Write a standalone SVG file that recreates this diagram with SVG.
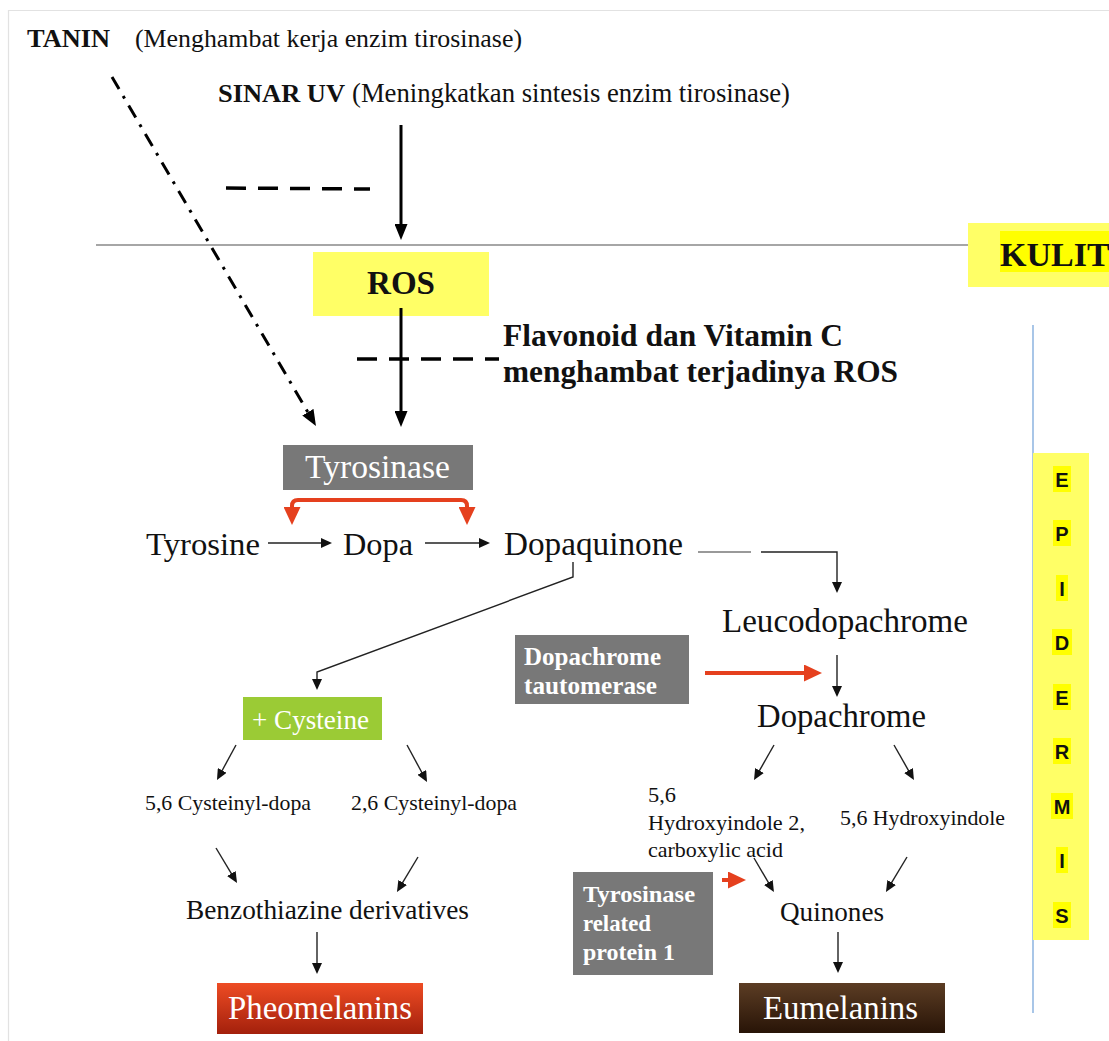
<svg xmlns="http://www.w3.org/2000/svg" width="1109" height="1041" viewBox="0 0 1109 1041">
<style>
.serif{font-family:"Liberation Serif","Times New Roman",serif;fill:#111;}
.b{font-weight:bold;}
.w{fill:#fff;}
.sans{font-family:"Liberation Sans",Arial,sans-serif;font-weight:bold;fill:#111;}
.thin{stroke:#222;stroke-width:1.4;fill:none;}
.thick{stroke:#000;stroke-width:3;fill:none;}
.red{stroke:#E5401E;stroke-width:4;fill:none;}
.dash{stroke:#000;stroke-width:3.5;stroke-dasharray:20 12;fill:none;}
.gbox{fill:#787878;}
</style>
<defs>
<marker id="ahThick" markerUnits="userSpaceOnUse" markerWidth="16" markerHeight="13" refX="4" refY="6.5" orient="auto" viewBox="0 0 16 13"><path d="M0,0 L16,6.5 L0,13 z" fill="#000"/></marker>
<marker id="ahThin" markerUnits="userSpaceOnUse" markerWidth="11" markerHeight="10" refX="3" refY="5" orient="auto" viewBox="0 0 11 10"><path d="M0,0 L11,5 L0,10 z" fill="#111"/></marker>
<marker id="ahRed" markerUnits="userSpaceOnUse" markerWidth="18" markerHeight="17" refX="4" refY="8.5" orient="auto" viewBox="0 0 18 17"><path d="M0,0 L18,8.5 L0,17 z" fill="#E5401E"/></marker>
<linearGradient id="gPheo" x1="0" y1="0" x2="0" y2="1"><stop offset="0" stop-color="#EE4C24"/><stop offset="1" stop-color="#A3200C"/></linearGradient>
<linearGradient id="gEu" x1="0" y1="0" x2="0" y2="1"><stop offset="0" stop-color="#5C3D24"/><stop offset="1" stop-color="#281407"/></linearGradient>
</defs>
<rect width="1109" height="1041" fill="#fff"/>
<g id="frame" stroke="#e2e2e2" stroke-width="1.2" fill="none">
<path d="M8.5,1041 V10.5 H1109"/>
</g>
<g id="skin-line"><line x1="96" y1="245" x2="968" y2="245" stroke="#888" stroke-width="1.3"/></g>
<g id="epidermis-line"><line x1="1033" y1="325" x2="1033" y2="1013" stroke="#6FA0D8" stroke-width="1.2"/></g>

<g id="tanin">
<text class="serif b" x="27" y="47" font-size="25" textLength="83" lengthAdjust="spacingAndGlyphs">TANIN</text>
<text class="serif" x="135" y="47" font-size="26" textLength="387" lengthAdjust="spacingAndGlyphs">(Menghambat kerja enzim tirosinase)</text>
</g>
<g id="sinar-uv">
<text class="serif b" x="218" y="102" font-size="26" textLength="127" lengthAdjust="spacingAndGlyphs">SINAR UV</text>
<text class="serif" x="352" y="102" font-size="26.5" textLength="438" lengthAdjust="spacingAndGlyphs">(Meningkatkan sintesis enzim tirosinase)</text>
</g>
<g id="kulit">
<rect x="968" y="223" width="141" height="64" fill="#FFFF66"/>
<rect x="1000" y="231" width="109" height="41" fill="#FFFF00"/>
<text class="serif b" x="1000" y="266" font-size="34">KULIT</text>
</g>
<g id="ros">
<rect x="313" y="252" width="176" height="64" fill="#FFFF66"/>
<text class="serif b" x="367" y="294" font-size="33" textLength="68" lengthAdjust="spacingAndGlyphs">ROS</text>
</g>
<g id="flavonoid">
<text class="serif b" x="503" y="346" font-size="31" textLength="340" lengthAdjust="spacingAndGlyphs">Flavonoid dan Vitamin C</text>
<text class="serif b" x="503" y="382" font-size="31" textLength="395" lengthAdjust="spacingAndGlyphs">menghambat terjadinya ROS</text>
</g>
<g id="tyrosinase">
<rect class="gbox" x="283" y="445" width="190" height="45"/>
<text class="serif w" x="305" y="478" font-size="33" textLength="145" lengthAdjust="spacingAndGlyphs">Tyrosinase</text>
</g>
<g id="tyrosine"><text class="serif" x="146" y="555" font-size="32" textLength="114" lengthAdjust="spacingAndGlyphs">Tyrosine</text></g>
<g id="dopa"><text class="serif" x="343" y="555" font-size="32" textLength="70" lengthAdjust="spacingAndGlyphs">Dopa</text></g>
<g id="dopaquinone"><text class="serif" x="504" y="555" font-size="33" textLength="179" lengthAdjust="spacingAndGlyphs">Dopaquinone</text></g>
<g id="leucodopachrome"><text class="serif" x="722" y="632" font-size="33" textLength="246" lengthAdjust="spacingAndGlyphs">Leucodopachrome</text></g>
<g id="dopachrome-tautomerase">
<rect class="gbox" x="515" y="635" width="174" height="69"/>
<text class="serif b w" x="524" y="665" font-size="25" textLength="137" lengthAdjust="spacingAndGlyphs">Dopachrome</text>
<text class="serif b w" x="524" y="694" font-size="25" textLength="133" lengthAdjust="spacingAndGlyphs">tautomerase</text>
</g>
<g id="dopachrome"><text class="serif" x="757" y="727" font-size="33" textLength="169" lengthAdjust="spacingAndGlyphs">Dopachrome</text></g>
<g id="cysteine">
<rect x="243" y="697" width="139" height="43" fill="#9BCB35"/>
<text class="serif w" x="252" y="729" font-size="27" textLength="117" lengthAdjust="spacingAndGlyphs">+ Cysteine</text>
</g>
<g id="cysteinyl-56"><text class="serif" x="145" y="810" font-size="22" textLength="166" lengthAdjust="spacingAndGlyphs">5,6 Cysteinyl-dopa</text></g>
<g id="cysteinyl-26"><text class="serif" x="351" y="810" font-size="22" textLength="166" lengthAdjust="spacingAndGlyphs">2,6 Cysteinyl-dopa</text></g>
<g id="benzothiazine"><text class="serif" x="186" y="919" font-size="27" textLength="283" lengthAdjust="spacingAndGlyphs">Benzothiazine derivatives</text></g>
<g id="pheomelanins">
<rect x="217" y="983" width="206" height="51" fill="url(#gPheo)"/>
<text class="serif w" x="228" y="1019" font-size="33" textLength="184" lengthAdjust="spacingAndGlyphs">Pheomelanins</text>
</g>
<g id="dhica">
<text class="serif" x="648" y="802" font-size="22" textLength="28" lengthAdjust="spacingAndGlyphs">5,6</text>
<text class="serif" x="648" y="830" font-size="22" textLength="157" lengthAdjust="spacingAndGlyphs">Hydroxyindole 2,</text>
<text class="serif" x="648" y="857" font-size="22" textLength="135" lengthAdjust="spacingAndGlyphs">carboxylic acid</text>
</g>
<g id="dhi"><text class="serif" x="840" y="825" font-size="22" textLength="165" lengthAdjust="spacingAndGlyphs">5,6 Hydroxyindole</text></g>
<g id="quinones"><text class="serif" x="780" y="921" font-size="27" textLength="104" lengthAdjust="spacingAndGlyphs">Quinones</text></g>
<g id="trp1">
<rect class="gbox" x="573" y="872" width="140" height="103"/>
<text class="serif b w" x="583" y="902" font-size="24" textLength="112" lengthAdjust="spacingAndGlyphs">Tyrosinase</text>
<text class="serif b w" x="583" y="931" font-size="24" textLength="68" lengthAdjust="spacingAndGlyphs">related</text>
<text class="serif b w" x="583" y="960" font-size="24" textLength="92" lengthAdjust="spacingAndGlyphs">protein 1</text>
</g>
<g id="eumelanins">
<rect x="739" y="983" width="206" height="50" fill="url(#gEu)"/>
<text class="serif w" x="763" y="1019" font-size="33" textLength="155" lengthAdjust="spacingAndGlyphs">Eumelanins</text>
</g>
<g id="epidermis">
<rect x="1033" y="453" width="56" height="487" fill="#FFFF66"/>
<g fill="#FFFF00">
<rect x="1053" y="466" width="18" height="26"/>
<rect x="1053" y="520" width="18" height="26"/>
<rect x="1056" y="575" width="12" height="26"/>
<rect x="1052" y="629" width="20" height="26"/>
<rect x="1053" y="684" width="18" height="26"/>
<rect x="1053" y="738" width="18" height="26"/>
<rect x="1051" y="793" width="22" height="26"/>
<rect x="1056" y="847" width="12" height="26"/>
<rect x="1053" y="902" width="18" height="26"/>
</g>
<g class="sans" font-size="20" text-anchor="middle">
<text x="1062" y="487">E</text>
<text x="1062" y="541">P</text>
<text x="1062" y="596">I</text>
<text x="1062" y="650">D</text>
<text x="1062" y="705">E</text>
<text x="1062" y="759">R</text>
<text x="1062" y="814">M</text>
<text x="1062" y="868">I</text>
<text x="1062" y="923">S</text>
</g>
</g>

<g id="connectors">
<line class="dash" x1="226" y1="188" x2="370" y2="189"/>
<line class="dash" x1="357" y1="359" x2="499" y2="359"/>
<line class="thick" x1="401" y1="125" x2="401" y2="228" marker-end="url(#ahThick)"/>
<line class="thick" x1="401" y1="308" x2="401" y2="415" marker-end="url(#ahThick)"/>
<line x1="112" y1="77" x2="309.9" y2="415.6" stroke="#000" stroke-width="3" stroke-dasharray="14 8 3 8" marker-end="url(#ahThick)"/>
<path class="red" d="M380,500 H298 Q292,500 292,506 V511" marker-end="url(#ahRed)"/>
<path class="red" d="M380,500 H461 Q467,500 467,506 V511" marker-end="url(#ahRed)"/>
<line class="thin" x1="268" y1="543" x2="324" y2="543" marker-end="url(#ahThin)"/>
<line class="thin" x1="425" y1="543" x2="482" y2="543" marker-end="url(#ahThin)"/>
<line x1="698" y1="552" x2="751" y2="552" stroke="#777" stroke-width="1.4"/>
<path class="thin" d="M761,552 H837 V585" stroke="#444" marker-end="url(#ahThin)"/>
<line class="thin" x1="837" y1="655" x2="837" y2="689" marker-end="url(#ahThin)"/>
<line class="red" x1="705" y1="673" x2="808" y2="673" marker-end="url(#ahRed)"/>
<path class="thin" d="M573,562 V577 L317,672 V682" marker-end="url(#ahThin)"/>
<line class="thin" x1="236" y1="745" x2="220.8" y2="773" marker-end="url(#ahThin)"/>
<line class="thin" x1="407" y1="745" x2="423.2" y2="775" marker-end="url(#ahThin)"/>
<line class="thin" x1="216" y1="848" x2="232.9" y2="876.1" marker-end="url(#ahThin)"/>
<line class="thin" x1="418" y1="857" x2="401.1" y2="885.1" marker-end="url(#ahThin)"/>
<line class="thin" x1="317" y1="932" x2="317" y2="966" marker-end="url(#ahThin)"/>
<line class="thin" x1="774" y1="745" x2="758" y2="773.1" marker-end="url(#ahThin)"/>
<line class="thin" x1="894" y1="745" x2="910" y2="773.1" marker-end="url(#ahThin)"/>
<line class="thin" x1="754" y1="858" x2="769.9" y2="885.1" marker-end="url(#ahThin)"/>
<line class="thin" x1="907" y1="857" x2="890.1" y2="885.1" marker-end="url(#ahThin)"/>
<line class="red" x1="722" y1="880" x2="732" y2="880" marker-end="url(#ahRed)"/>
<line class="thin" x1="838" y1="932" x2="838" y2="965" marker-end="url(#ahThin)"/>
</g>
</svg>
